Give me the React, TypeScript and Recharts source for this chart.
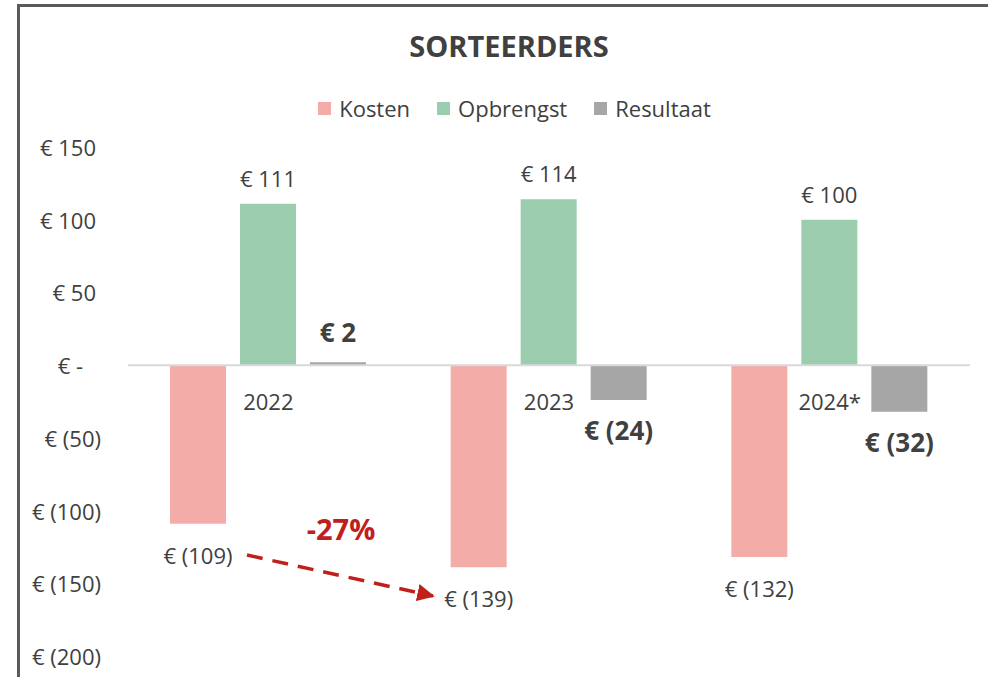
import React from "react";
import { BarChart, Bar, XAxis, YAxis, ReferenceLine, Legend, LabelList } from "recharts";

const years = ["2022", "2023", "2024*"];
const kosten = [-109, -139, -132];
const opbrengst = [111, 114, 100];
const resultaat = [2, -24, -32];
const yTicks = [150, 100, 50, 0, -50, -100, -150, -200];

const data = years.map((year, i) => ({
  year,
  kosten: kosten[i],
  opbrengst: opbrengst[i],
  resultaat: resultaat[i],
}));

const FONT = "'Open Sans', 'Noto Sans', sans-serif";
const TEXT = "#404040";
const W = 988;
const H = 677;
const TOP = 147;
const BOTTOM = 656;
const Y_MIN = -200;
const Y_MAX = 150;
const zeroY = TOP + ((BOTTOM - TOP) * Y_MAX) / (Y_MAX - Y_MIN);

const series = [
  { key: "kosten", name: "Kosten", color: "#F4ACA9" },
  { key: "opbrengst", name: "Opbrengst", color: "#9BCDAE" },
  { key: "resultaat", name: "Resultaat", color: "#A6A6A6" },
];

const fmt = (v: number) => (v < 0 ? `€ (${-v})` : v === 0 ? "€ -" : `€ ${v}`);

const YTick = (props: any) => {
  const v = props.payload.value;
  const x = v < 0 ? 101 : v === 0 ? 83 : 96;
  return (
    <text x={x} y={props.y} textAnchor="end" dominantBaseline="central" fill={TEXT} fontSize={22} fontFamily={FONT}>
      {fmt(v)}
    </text>
  );
};

const XTick = (props: any) => (
  <text x={props.x} y={zeroY + 36} textAnchor="middle" dominantBaseline="central" fill={TEXT} fontSize={22} fontFamily={FONT}>
    {props.payload.value}
  </text>
);

const makeLabel = (offset: number, fontSize: number, bold: boolean) => (props: any) => {
  const { x, y, width, height, value } = props;
  const top = Math.min(y, y + height);
  const bottom = Math.max(y, y + height);
  const ty = value < 0 ? bottom + offset : top - offset;
  return (
    <text
      x={x + width / 2}
      y={ty}
      textAnchor="middle"
      dominantBaseline="central"
      fill={TEXT}
      fontSize={fontSize}
      fontWeight={bold ? 700 : 400}
      fontFamily={FONT}
    >
      {fmt(value)}
    </text>
  );
};

const LegendContent = () => (
  <div style={{ display: "flex", justifyContent: "center", gap: 27, fontFamily: FONT, fontSize: 22, color: TEXT }}>
    {series.map((s) => (
      <div key={s.key} style={{ display: "flex", alignItems: "center", gap: 8 }}>
        <span style={{ width: 13, height: 13, background: s.color, display: "inline-block" }} />
        <span>{s.name}</span>
      </div>
    ))}
  </div>
);

export default function App() {
  return (
    <div style={{ position: "absolute", left: 0, top: 0, width: W, height: H, background: "#fff", overflow: "hidden" }}>
      <div style={{ position: "absolute", left: 17, top: 4, width: 968, height: H, borderTop: "3px solid #5a5a5a", borderLeft: "3px solid #5a5a5a" }} />
      <div
        style={{
          position: "absolute",
          left: 0,
          width: W,
          top: 26,
          textAlign: "center",
          fontFamily: FONT,
          fontWeight: 700,
          fontSize: 29,
          color: TEXT,
          paddingLeft: 30,
          boxSizing: "border-box",
        }}
      >
        SORTEERDERS
      </div>
      <div style={{ position: "absolute", left: 0, top: 0 }}>
        <BarChart
          width={W}
          height={H}
          data={data}
          margin={{ top: TOP, right: 18, bottom: 1, left: 0 }}
          barSize={56}
          barGap={14}
        >
          <XAxis dataKey="year" height={H - BOTTOM - 1} axisLine={false} tickLine={false} tick={<XTick />} interval={0} />
          <YAxis
            width={128}
            domain={[Y_MIN, Y_MAX]}
            ticks={yTicks}
            axisLine={false}
            tickLine={false}
            tick={<YTick />}
            allowDataOverflow
          />
          <Legend
            verticalAlign="middle"
            align="center"
            layout="horizontal"
            content={<LegendContent />}
            wrapperStyle={{ top: 93, left: 41, width: W - 41 }}
          />
          <ReferenceLine y={0} stroke="#D9D9D9" strokeWidth={2} />
          <Bar dataKey="kosten" name="Kosten" fill="#F4ACA9" isAnimationActive={false}>
            <LabelList dataKey="kosten" content={makeLabel(31, 22, false)} />
          </Bar>
          <Bar dataKey="opbrengst" name="Opbrengst" fill="#9BCDAE" isAnimationActive={false}>
            <LabelList dataKey="opbrengst" content={makeLabel(26, 22, false)} />
          </Bar>
          <Bar dataKey="resultaat" name="Resultaat" fill="#A6A6A6" isAnimationActive={false}>
            <LabelList dataKey="resultaat" content={makeLabel(30, 26, true)} />
          </Bar>
        </BarChart>
      </div>
      <svg width={W} height={H} style={{ position: "absolute", left: 0, top: 0, pointerEvents: "none" }}>
        <defs>
          <marker id="arrowHead" viewBox="0 0 10 10" refX="9" refY="5" markerWidth="5" markerHeight="5" orient="auto">
            <path d="M0,0 L10,5 L0,10 z" fill="#C0201A" />
          </marker>
        </defs>
        <line
          x1={247}
          y1={555}
          x2={433}
          y2={596}
          stroke="#C0201A"
          strokeWidth={3.5}
          strokeDasharray="16 10"
          markerEnd="url(#arrowHead)"
        />
        <text x={341} y={528} textAnchor="middle" dominantBaseline="central" fill="#C0201A" fontSize={29} fontWeight={700} fontFamily={FONT}>
          -27%
        </text>
      </svg>
    </div>
  );
}
